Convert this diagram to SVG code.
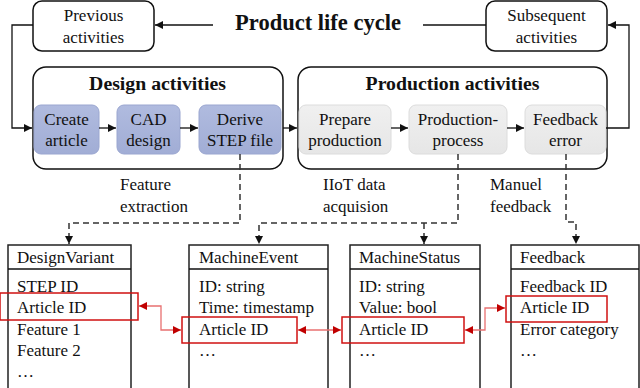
<svg xmlns="http://www.w3.org/2000/svg" width="640" height="388" viewBox="0 0 640 388">
<defs>
<marker id="ah" viewBox="0 0 10 10" refX="10" refY="5" markerWidth="8" markerHeight="8" markerUnits="userSpaceOnUse" orient="auto">
<path d="M0,0 L10,5 L0,10 z" fill="#111"/>
</marker>
<marker id="ahr" viewBox="0 0 10 10" refX="10" refY="5" markerWidth="8" markerHeight="8" markerUnits="userSpaceOnUse" orient="auto-start-reverse">
<path d="M0,0 L10,5 L0,10 z" fill="#c00000"/>
</marker>
<linearGradient id="gb" x1="0" y1="0" x2="0" y2="1">
<stop offset="0" stop-color="#b0bbdf"/>
<stop offset="1" stop-color="#a1add5"/>
</linearGradient>
<linearGradient id="gg" x1="0" y1="0" x2="0" y2="1">
<stop offset="0" stop-color="#f0f0f0"/>
<stop offset="1" stop-color="#e6e6e6"/>
</linearGradient>
</defs>
<style>
text{font-family:"Liberation Serif","Times New Roman",serif;font-size:17px;fill:#111}
.c{text-anchor:middle}
.b{font-weight:bold}
.box{fill:#fff;stroke:#111;stroke-width:1.5}
.blue{fill:url(#gb);stroke:#9aa6d0;stroke-width:1}
.gray{fill:url(#gg);stroke:#dcdcdc;stroke-width:1}
.ln{fill:none;stroke:#111;stroke-width:1.3}
.dash{fill:none;stroke:#333;stroke-width:1.5;stroke-dasharray:6,4}
.ent{fill:#fff;stroke:#222;stroke-width:1.5}
.red{fill:none;stroke:#d01010;stroke-width:1.5}
.rl{fill:none;stroke:#e87070;stroke-width:1.3}
</style>
<rect width="640" height="388" fill="#fff"/>

<g id="title">
<text class="c b" x="318" y="30" style="font-size:22.5px">Product life cycle</text>
</g>
<g id="previous">
<rect class="box" x="33" y="1" width="121" height="50" rx="9"/>
<text class="c" x="93.5" y="21">Previous</text>
<text class="c" x="93.5" y="43">activities</text>
</g>
<g id="subsequent">
<rect class="box" x="486" y="1" width="121" height="50" rx="9"/>
<text class="c" x="546.5" y="21">Subsequent</text>
<text class="c" x="546.5" y="43">activities</text>
</g>

<g id="design">
<rect class="box" x="33" y="67" width="250" height="102" rx="13"/>
<text class="c b" x="157.5" y="90" style="font-size:19.8px">Design activities</text>
</g>
<g id="create">
<rect class="blue" x="34" y="105" width="65" height="49" rx="7"/>
<text class="c" x="66.5" y="125">Create</text>
<text class="c" x="66.5" y="146">article</text>
</g>
<g id="cad">
<rect class="blue" x="117" y="105" width="63" height="49" rx="7"/>
<text class="c" x="148.5" y="125">CAD</text>
<text class="c" x="148.5" y="146">design</text>
</g>
<g id="derive">
<rect class="blue" x="199" y="105" width="82" height="49" rx="7"/>
<text class="c" x="240" y="125">Derive</text>
<text class="c" x="240" y="146">STEP file</text>
</g>

<g id="production">
<rect class="box" x="298" y="67" width="309" height="102" rx="13"/>
<text class="c b" x="452.5" y="90" style="font-size:19.8px">Production activities</text>
</g>
<g id="prepare">
<rect class="gray" x="299" y="105" width="92" height="49" rx="7"/>
<text class="c" x="345" y="125">Prepare</text>
<text class="c" x="345" y="146">production</text>
</g>
<g id="process">
<rect class="gray" x="409" y="105" width="98" height="49" rx="7"/>
<text class="c" x="458" y="125">Production-</text>
<text class="c" x="458" y="146">process</text>
</g>
<g id="feedbackerror">
<rect class="gray" x="525" y="105" width="81" height="49" rx="7"/>
<text class="c" x="565.5" y="125">Feedback</text>
<text class="c" x="565.5" y="146">error</text>
</g>

<g id="labels">
<text x="120" y="190">Feature</text>
<text x="120" y="212">extraction</text>
<text x="323" y="190">IIoT data</text>
<text x="323" y="212">acquision</text>
<text x="490" y="190">Manuel</text>
<text x="490" y="212">feedback</text>
</g>

<g id="designvariant">
<rect class="ent" x="8" y="245" width="123" height="160"/>
<line class="ln" x1="8" y1="269" x2="131" y2="269" stroke-width="1.5"/>
<text x="17" y="263">DesignVariant</text>
<text x="17" y="292">STEP ID</text>
<text x="17" y="313">Article ID</text>
<text x="17" y="335">Feature 1</text>
<text x="17" y="356">Feature 2</text>
<text x="17" y="377">…</text>
<rect class="red" x="0" y="293" width="138" height="27"/>
</g>
<g id="machineevent">
<rect class="ent" x="189" y="245" width="139" height="160"/>
<line class="ln" x1="189" y1="269" x2="328" y2="269" stroke-width="1.5"/>
<text x="199" y="263">MachineEvent</text>
<text x="199" y="292">ID: string</text>
<text x="199" y="313">Time: timestamp</text>
<text x="199" y="335">Article ID</text>
<text x="199" y="356">…</text>
<rect class="red" x="182" y="317" width="115" height="26"/>
</g>
<g id="machinestatus">
<rect class="ent" x="350" y="245" width="130" height="160"/>
<line class="ln" x1="350" y1="269" x2="480" y2="269" stroke-width="1.5"/>
<text x="359" y="263">MachineStatus</text>
<text x="359" y="292">ID: string</text>
<text x="359" y="313">Value: bool</text>
<text x="359" y="335">Article ID</text>
<text x="359" y="356">…</text>
<rect class="red" x="342" y="317" width="122" height="26"/>
</g>
<g id="feedback">
<rect class="ent" x="511" y="245" width="128" height="160"/>
<line class="ln" x1="511" y1="269" x2="639" y2="269" stroke-width="1.5"/>
<text x="520" y="263">Feedback</text>
<text x="520" y="292">Feedback ID</text>
<text x="520" y="313">Article ID</text>
<text x="520" y="335">Error category</text>
<text x="520" y="356">…</text>
<rect class="red" x="506" y="296" width="101" height="26"/>
</g>

<g id="connectors">
<path class="ln" d="M213,25 H155" marker-end="url(#ah)"/>
<path class="ln" d="M423,25 H486"/>
<path class="ln" d="M33,25 H12 V128 H32" marker-end="url(#ah)"/>
<path class="ln" d="M606,128 H629 V25 H608" marker-end="url(#ah)"/>
<path class="ln" d="M99,128 H116" marker-end="url(#ah)"/>
<path class="ln" d="M180,128 H198" marker-end="url(#ah)"/>
<path class="ln" d="M283,128 H297" marker-end="url(#ah)"/>
<path class="ln" d="M391,128 H408" marker-end="url(#ah)"/>
<path class="ln" d="M507,128 H524" marker-end="url(#ah)"/>
<path class="dash" d="M240,154 V223 H69 V244" marker-end="url(#ah)"/>
<path class="dash" d="M458,154 V223 H259 V244" marker-end="url(#ah)"/>
<path class="dash" d="M424,223 V244" marker-end="url(#ah)"/>
<path class="dash" d="M566,154 V222 H576 V244" marker-end="url(#ah)"/>
<path class="rl" d="M139,306 H161 V330 H181" marker-start="url(#ahr)" marker-end="url(#ahr)"/>
<path class="rl" d="M298,330 H341" marker-start="url(#ahr)" marker-end="url(#ahr)"/>
<path class="rl" d="M465,330 H485 V308 H505" marker-start="url(#ahr)" marker-end="url(#ahr)"/>
</g>
</svg>
